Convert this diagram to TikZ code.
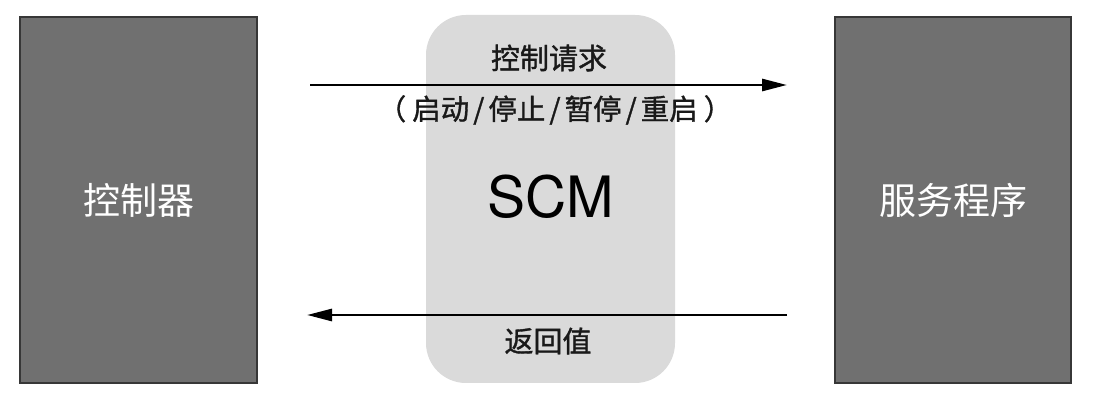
\documentclass[tikz,border=0pt]{standalone}
\usepackage{fontspec}
\newfontfamily\cjk{Noto Sans CJK SC}
\newfontfamily\cjkb[FakeBold=1.2]{Noto Sans CJK SC}
\newfontfamily\heros{TeX Gyre Heros}
\usetikzlibrary{arrows.meta}
\definecolor{boxgray}{RGB}{112,112,112}
\definecolor{boxedge}{RGB}{55,55,55}
\definecolor{scmgray}{RGB}{218,218,218}
\newcommand{\slsep}{\hspace{4pt}/\hspace{4pt}}
\tikzset{
  darkbox/.style={draw=boxedge, line width=1.5pt, fill=boxgray, minimum width=237pt, minimum height=366pt, inner sep=0pt, text=white, font=\cjk\fontsize{37}{40}\selectfont},
  scmarea/.style={fill=scmgray, rounded corners=40pt, minimum width=249pt, minimum height=368pt, inner sep=0pt},
  conn/.style={line width=2.8pt, -{Triangle[length=25pt,width=12pt]}},
  lbl/.style={inner sep=0pt, text=black!90, font=\cjkb\fontsize{29}{32}\selectfont},
}
\begin{document}
\begin{tikzpicture}[x=1pt,y=-1pt]
\useasboundingbox (0,0) rectangle (1101,403);
\fill[white] (0,0) rectangle (1101,403);
\node[scmarea] (scm) at (550.5,199) {};
\node[darkbox] (ctrl) at (138.5,200) {控制器};
\node[darkbox, minimum width=236pt] (svc) at (953,200) {服务程序};
\node[inner sep=0pt, font=\heros\fontsize{57}{60}\selectfont] (scmtext) at (551,197) {SCM};
\coordinate (a1s) at (310,85);
\coordinate (a1e) at (787,85);
\coordinate (a2s) at (787,315);
\coordinate (a2e) at (307,315);
\draw[conn] (a1s) -- (a1e);
\draw[conn] (a2s) -- (a2e);
\node[lbl] (req) at (549,58) {控制请求};
\node[lbl, font=\cjkb\fontsize{28.5}{32}\selectfont] (reqsub) at (555,110) {（\hspace{6pt}启动\slsep 停止\slsep 暂停\slsep 重启\hspace{6pt}）};
\node[lbl] (ret) at (548,341) {返回值};
\end{tikzpicture}
\end{document}
